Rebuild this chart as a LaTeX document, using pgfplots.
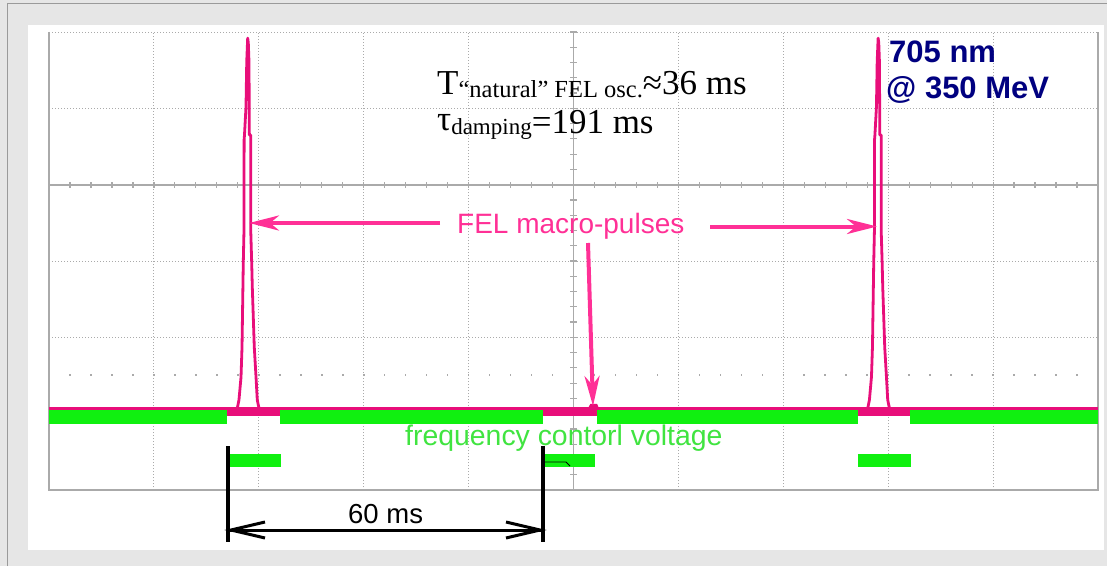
\documentclass[border=0pt]{standalone}
\usepackage{pgfplots}
\pgfplotsset{compat=1.18}
\usetikzlibrary{arrows.meta}
\usepackage{fontspec}
\setmainfont{Liberation Serif}
\newfontfamily\arial{Liberation Sans}

\definecolor{bgframe}{HTML}{E6E6E6}
\definecolor{framedark}{HTML}{9A9A9A}
\definecolor{scopegrid}{HTML}{AAAAAA}
\definecolor{felpink}{RGB}{232,14,122}
\definecolor{notepink}{RGB}{255,48,150}
\definecolor{fcvgreen}{RGB}{16,240,16}
\definecolor{txtgreen}{RGB}{64,228,64}
\definecolor{navy}{HTML}{000080}

\begin{document}
\begin{tikzpicture}
\useasboundingbox (0,0) rectangle (1107pt,566pt);

% screen frame and graticule (pixel-like units, y pointing down)
\begin{scope}[shift={(0pt,566pt)},x=1pt,y=-1pt]
  \fill[bgframe] (0,0) rectangle (1107,566);
  \draw[framedark, line width=1pt] (7,566) -- (7,4) -- (1107,4);
  \fill[white] (28,25) rectangle (1104,550);
  % centre graticule lines with minor ticks
  \draw[scopegrid, line width=1.5pt] (49,185) -- (1098,185);
  \draw[scopegrid, line width=1.5pt] (573.5,32) -- (573.5,490);
  \foreach \k in {0,...,50}
    \draw[scopegrid, line width=1.2pt] ({49+\k*20.98},182) -- ++(0,6);
  \foreach \k in {0,...,30}
    \draw[scopegrid, line width=1.2pt] (570,{32+\k*15.267}) -- ++(7,0);
  % trigger level dots
  \foreach \k in {0,...,50}
    \fill[scopegrid] ({49+\k*20.98-0.8},374.2) rectangle ++(1.6,1.6);
  % solid screen border
  \draw[scopegrid, line width=2pt] (49,32) -- (49,490) -- (1098,490) -- (1098,32);
\end{scope}

\begin{axis}[
  at={(49pt,76pt)}, anchor=south west,
  scale only axis, width=1049pt, height=458pt,
  xmin=0, xmax=200, ymin=0, ymax=6,
  axis line style={draw=none},
  xtick={0,20,...,200}, ytick={0,1,...,6},
  xticklabels={}, yticklabels={},
  major tick length=0pt, tick style={draw=none},
  grid=major,
  major grid style={scopegrid, line width=1pt, dash pattern=on 1pt off 2pt},
  clip=false,
]
% FEL signal baseline
\addplot[felpink, line width=9pt] coordinates {(0,1.03) (200,1.03)};
% small response near 104 ms
\addplot[felpink, line width=3pt] coordinates {
  (103.0,1.06) (103.4,1.11) (104.3,1.11) (104.6,1.06)};

% frequency control voltage: high level
\addplot[fcvgreen, line width=14pt] coordinates {(0,0.95) (33.9,0.95)};
\addplot[fcvgreen, line width=14pt] coordinates {(44.1,0.95) (94.2,0.95)};
\addplot[fcvgreen, line width=14pt] coordinates {(104.5,0.95) (154.2,0.95)};
\addplot[fcvgreen, line width=14pt] coordinates {(164.2,0.95) (200,0.95)};
% frequency control voltage: low level
\addplot[fcvgreen, line width=13pt] coordinates {(34.5,0.393) (44.2,0.393)};
\addplot[fcvgreen, line width=13pt] coordinates {(94.6,0.393) (104.1,0.393)};
\addplot[fcvgreen, line width=13pt] coordinates {(154.2,0.393) (164.3,0.393)};

% FEL macro-pulses
\addplot[felpink, line width=2.8pt, line join=round] coordinates {
  (35.27,1.01) (35.84,1.05) (36.22,1.18) (36.61,1.48) (36.80,1.87)
  (37.04,2.97) (37.18,3.41) (37.20,4.59) (37.27,4.65) (37.56,5.02)
  (37.70,5.61) (37.88,5.92) (38.00,5.86) (38.13,5.61) (38.20,4.65)
  (38.46,4.65) (38.46,3.41) (38.65,2.97) (38.76,2.66) (39.14,1.87)
  (39.47,1.48) (39.71,1.18) (40.10,1.05) (40.61,1.01)};
\addplot[felpink, line width=2.8pt, line join=round] coordinates {
  (155.47,1.01) (156.04,1.05) (156.42,1.18) (156.81,1.48) (157.00,1.87)
  (157.24,2.97) (157.38,3.41) (157.40,4.59) (157.47,4.65) (157.76,5.02)
  (157.90,5.61) (158.08,5.92) (158.20,5.86) (158.33,5.61) (158.40,4.65)
  (158.66,4.65) (158.66,3.41) (158.85,2.97) (158.96,2.66) (159.34,1.87)
  (159.67,1.48) (159.91,1.18) (160.30,1.05) (160.81,1.01)};
\end{axis}

% annotations
\begin{scope}[shift={(0pt,566pt)},x=1pt,y=-1pt]
  \node[anchor=base west, inner sep=0pt] at (437,95)
    {\fontsize{35}{40}\selectfont T\raisebox{-2.5pt}{\fontsize{24.5}{28}\selectfont “natural” FEL osc.}≈36 ms};
  \node[anchor=base west, inner sep=0pt] at (437,134)
    {\fontsize{35}{40}\selectfont \raisebox{3pt}{τ}\raisebox{-1pt}{\fontsize{23}{28}\selectfont damping}=191 ms};

  \node[anchor=base west, inner sep=0pt, text=navy] at (889,63)
    {\arial\bfseries\fontsize{31}{36}\selectfont 705 nm};
  \node[anchor=base west, inner sep=0pt, text=navy] at (886,99)
    {\arial\bfseries\fontsize{31}{36}\selectfont @ 350 MeV};

  \node[anchor=base west, inner sep=0pt, text=notepink] at (457,233)
    {\arial\fontsize{28}{32}\selectfont FEL macro-pulses};
  \draw[notepink, line width=4pt, -{Stealth[length=30pt,width=15pt,inset=9pt]}]
    (440,223) -- (249,223);
  \draw[notepink, line width=4pt, -{Stealth[length=30pt,width=15pt,inset=9pt]}]
    (710,226.5) -- (877,226.5);
  \draw[notepink, line width=4pt, -{Stealth[length=30pt,width=15pt,inset=9pt]}]
    (588,243) -- (593,406);

  \node[anchor=base west, inner sep=0pt, text=txtgreen] at (405,445)
    {\arial\fontsize{28.4}{32}\selectfont frequency contorl voltage};

  % 60 ms dimension
  \draw[black, line width=4pt] (228,446) -- (228,542);
  \draw[black, line width=4pt] (543,446) -- (543,542);
  \draw[black, line width=3pt] (230,530) -- (541,530);
  \draw[black, line width=3pt, line join=miter] (265,522) -- (231,530) -- (265,538);
  \draw[black, line width=3pt, line join=miter] (506,522) -- (540,530) -- (506,538);
  \draw[black, line width=0.8pt] (545,462) -- (566,462) -- (570,466);
  \node[anchor=base west, inner sep=0pt] at (348,523)
    {\arial\fontsize{27.5}{32}\selectfont 60 ms};
\end{scope}
\end{tikzpicture}
\end{document}
